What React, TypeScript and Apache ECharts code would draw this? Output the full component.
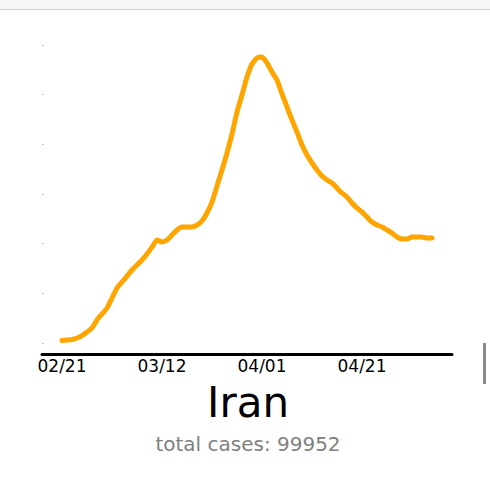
import React, { useEffect, useRef } from "react";
import * as echarts from "echarts";

const countryName = "Iran";
const totalCases = 99952;
const tickDays = [0, 20, 40, 60];
const tickLabels = ["02/21", "03/12", "04/01", "04/21"];
// 7-day average of daily new cases, one value per day from 02/21
const dailyCases = [
  25, 30, 35, 50, 75, 111, 151, 232, 292, 352,
  453, 554, 614, 674, 735, 785, 836, 896, 966, 1037,
  1017, 1037, 1087, 1138, 1168, 1168, 1168, 1188, 1228, 1309,
  1419, 1580, 1742, 1913, 2104, 2325, 2497, 2678, 2809, 2869,
  2879, 2819, 2728, 2648, 2507, 2376, 2245, 2124, 1993, 1893,
  1812, 1742, 1681, 1641, 1611, 1560, 1510, 1470, 1409, 1359,
  1319, 1268, 1218, 1188, 1168, 1138, 1107, 1067, 1047, 1047,
  1067, 1067, 1067, 1057, 1057,
];

const FONT = "DejaVu Sans";

export default function App() {
  const ref = useRef<HTMLDivElement>(null);
  useEffect(() => {
    if (!ref.current) return;
    const chart = echarts.init(ref.current, null, { renderer: "svg" });
    const seriesData = dailyCases.map((v, i) => [i, v]);
    chart.setOption({
      animation: false,
      backgroundColor: "#ffffff",
      grid: { left: 42, right: 38, top: 45, bottom: 136, containLabel: false },
      xAxis: {
        type: "value",
        min: -4,
        max: 78,
        offset: 11,
        axisLine: { show: true, onZero: false, lineStyle: { color: "#000", width: 3 } },
        axisTick: { show: false },
        splitLine: { show: false },
        axisLabel: {
          show: true,
          customValues: tickDays,
          margin: 3,
          color: "#000",
          fontSize: 17,
          fontFamily: FONT,
          formatter: (v: number) => {
            const i = tickDays.indexOf(v);
            return i >= 0 ? tickLabels[i] : "";
          },
        },
      },
      yAxis: {
        type: "value",
        min: 0,
        max: 3000,
        interval: 500,
        axisLine: { show: false, onZero: false },
        axisTick: { show: true, inside: true, length: 2, lineStyle: { color: "#c8c8c8", width: 1 } },
        axisLabel: { show: false },
        splitLine: { show: false },
      },
      series: [
        {
          type: "line",
          data: seriesData,
          showSymbol: false,
          smooth: 0.15,
          clip: false,
          lineStyle: { color: "#FFA500", width: 5, cap: "round", join: "round" },
        },
      ],
      graphic: [
        { type: "rect", shape: { x: 0, y: 0, width: 490, height: 9 }, style: { fill: "#f6f6f6" }, silent: true },
        { type: "rect", shape: { x: 0, y: 9, width: 490, height: 1 }, style: { fill: "#cfcfcf" }, silent: true },
        { type: "rect", shape: { x: 483, y: 343, width: 3, height: 41 }, style: { fill: "#8a8a8a" }, silent: true },
        {
          type: "text",
          x: 248,
          y: 423,
          style: {
            text: countryName,
            fontSize: 42,
            fontFamily: FONT,
            fill: "#000",
            align: "center",
            verticalAlign: "bottom",
          },
        },
        {
          type: "text",
          x: 248,
          y: 454,
          style: {
            text: "total cases: " + totalCases,
            fontSize: 20,
            fontFamily: FONT,
            fill: "#808080",
            align: "center",
            verticalAlign: "bottom",
          },
        },
      ],
    });
    return () => chart.dispose();
  }, []);
  return (
    <div
      ref={ref}
      style={{ position: "absolute", left: 0, top: 0, width: 490, height: 479 }}
    />
  );
}
